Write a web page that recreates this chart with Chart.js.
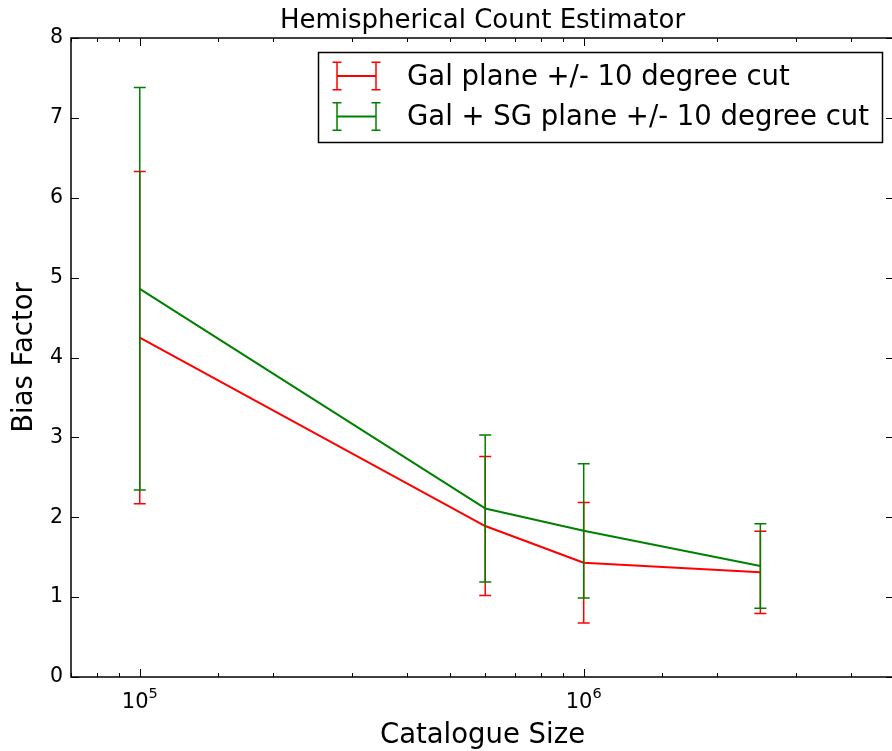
<!DOCTYPE html>
<html>
<head>
<meta charset="utf-8">
<script src="https://cdn.jsdelivr.net/npm/chart.js@4.4.0/dist/chart.umd.min.js"></script>
<style>
  html, body { margin: 0; padding: 0; background: #fff; }
  #wrap { width: 892px; height: 751px; overflow: hidden; }
  canvas { display: block; }
</style>
</head>
<body>
<div id="wrap"><canvas id="grafico" width="896" height="751"></canvas></div>
<script>
// valores
const catalogueSizes = [1e5, 6e5, 1e6, 2.5e6];
const galPlaneBias = [4.25, 1.89, 1.43, 1.31];
const galPlaneErr = [2.08, 0.87, 0.755, 0.515];
const galSgPlaneBias = [4.86, 2.11, 1.83, 1.39];
const galSgPlaneErr = [2.52, 0.92, 0.84, 0.53];
const seriesLabels = ['Gal plane +/- 10 degree cut', 'Gal + SG plane +/- 10 degree cut'];
const seriesColors = ['#ff0000', '#008000'];
const yTicks = [0, 1, 2, 3, 4, 5, 6, 7, 8];
const xMin = 7e4, xMax = 5e6;
const titleText = 'Hemispherical Count Estimator';

const FONT = 'DejaVu Sans';

const toPoints = (ys) => catalogueSizes.map((x, i) => ({ x, y: ys[i] }));

// barras de error, dibujadas justo despues de cada serie
const errorBars = {
    id: 'errorBars',
    afterDatasetDraw(chart, args) {
        const ds = chart.data.datasets[args.index];
        const xs = chart.scales.x, ys = chart.scales.y;
        const ctx = chart.ctx;
        ctx.save();
        ctx.strokeStyle = ds.borderColor;
        ctx.lineWidth = 1.5;
        ds.data.forEach((p, i) => {
            const e = ds.errors[i];
            const px = xs.getPixelForValue(p.x);
            const top = ys.getPixelForValue(p.y + e);
            const bot = ys.getPixelForValue(p.y - e);
            ctx.beginPath();
            ctx.moveTo(px, top); ctx.lineTo(px, bot);
            ctx.moveTo(px - 6, top); ctx.lineTo(px + 6, top);
            ctx.moveTo(px - 6, bot); ctx.lineTo(px + 6, bot);
            ctx.stroke();
        });
        ctx.restore();
    }
};

// marco, ticks hacia adentro, etiquetas 10^n, titulo y leyenda
const frameAndExtras = {
    id: 'frameAndExtras',
    afterDatasetsDraw(chart) {
        const { ctx, chartArea: a } = chart;
        const xs = chart.scales.x, ys = chart.scales.y;
        ctx.save();

        // ticks
        ctx.strokeStyle = '#000';
        ctx.lineWidth = 1;
        ctx.beginPath();
        yTicks.forEach(v => {
            const py = Math.round(ys.getPixelForValue(v)) + 0.5;
            ctx.moveTo(a.left, py); ctx.lineTo(a.left + 8, py);
            ctx.moveTo(a.right, py); ctx.lineTo(a.right - 8, py);
        });
        xs.ticks.forEach(t => {
            const lg = Math.log10(t.value);
            const major = Math.abs(lg - Math.round(lg)) < 1e-9;
            const len = major ? 8 : 4;
            const px = Math.round(xs.getPixelForValue(t.value)) + 0.5;
            ctx.moveTo(px, a.bottom); ctx.lineTo(px, a.bottom - len);
            ctx.moveTo(px, a.top); ctx.lineTo(px, a.top + len);
        });
        ctx.stroke();

        // marco
        ctx.lineWidth = 1.5;
        ctx.strokeRect(a.left, a.top, a.right - a.left, a.bottom - a.top);

        // etiquetas del eje x
        ctx.fillStyle = '#000';
        ctx.textBaseline = 'alphabetic';
        xs.ticks.forEach(t => {
            const lg = Math.log10(t.value);
            if (Math.abs(lg - Math.round(lg)) > 1e-9) return;
            const px = xs.getPixelForValue(t.value);
            const exp = String(Math.round(lg));
            ctx.font = `21px "${FONT}"`;
            const wBase = ctx.measureText('10').width;
            ctx.font = `14.5px "${FONT}"`;
            const wExp = ctx.measureText(exp).width;
            const x0 = px - (wBase + wExp) / 2;
            ctx.textAlign = 'left';
            ctx.font = `21px "${FONT}"`;
            ctx.fillText('10', x0, a.bottom + 31);
            ctx.font = `14.5px "${FONT}"`;
            ctx.fillText(exp, x0 + wBase, a.bottom + 21);
        });

        // titulo
        ctx.font = `26px "${FONT}"`;
        ctx.textAlign = 'center';
        ctx.fillText(titleText, (a.left + a.right) / 2, 28);

        // leyenda
        const lx = 318, ly = 52, lw = 564, lh = 90;
        ctx.fillStyle = '#fff';
        ctx.fillRect(lx, ly, lw, lh);
        ctx.strokeStyle = '#000';
        ctx.lineWidth = 1.5;
        ctx.strokeRect(lx + 0.5, ly + 0.5, lw, lh);
        seriesLabels.forEach((lab, i) => {
            const cy = 76 + 40.5 * i;
            ctx.strokeStyle = seriesColors[i];
            ctx.lineWidth = 2;
            ctx.beginPath();
            ctx.moveTo(337, cy); ctx.lineTo(376, cy);
            ctx.stroke();
            ctx.lineWidth = 1.5;
            ctx.beginPath();
            [337, 376].forEach(vx => {
                ctx.moveTo(vx, cy - 13.75); ctx.lineTo(vx, cy + 13.75);
                ctx.moveTo(vx - 4.5, cy - 13.75); ctx.lineTo(vx + 4.5, cy - 13.75);
                ctx.moveTo(vx - 4.5, cy + 13.75); ctx.lineTo(vx + 4.5, cy + 13.75);
            });
            ctx.stroke();
            ctx.fillStyle = '#000';
            ctx.textAlign = 'left';
            ctx.font = `27.5px "${FONT}"`;
            ctx.fillText(lab, 407, cy + 8.5);
        });

        ctx.restore();
    }
};

const ctx = document.getElementById('grafico').getContext('2d');
new Chart(ctx, {
    type: 'line',
    data: {
        datasets: [
            { label: seriesLabels[0], data: toPoints(galPlaneBias), errors: galPlaneErr, borderColor: seriesColors[0], borderWidth: 2, borderJoinStyle: 'round', pointRadius: 0, tension: 0, fill: false, order: 1 },
            { label: seriesLabels[1], data: toPoints(galSgPlaneBias), errors: galSgPlaneErr, borderColor: seriesColors[1], borderWidth: 2, borderJoinStyle: 'round', pointRadius: 0, tension: 0, fill: false, order: 0 }
        ]
    },
    options: {
        responsive: false,
        animation: false,
        layout: { padding: { top: 38, right: 2, left: 0, bottom: 0 } },
        plugins: { legend: { display: false }, tooltip: { enabled: false }, title: { display: false } },
        scales: {
            x: {
                type: 'logarithmic', min: xMin, max: xMax,
                grid: { display: false, drawTicks: false },
                border: { display: false },
                ticks: { display: false, autoSkip: false },
                title: { display: true, text: 'Catalogue Size', color: '#000', font: { family: FONT, size: 27.5, lineHeight: 1.1 }, padding: { top: 0, bottom: 0 } },
                afterFit: s => { s.height = 74; }
            },
            y: {
                min: 0, max: 8,
                afterBuildTicks: s => { s.ticks = yTicks.map(v => ({ value: v })); },
                ticks: { color: '#000', font: { family: FONT, size: 20.5 }, padding: 8 },
                grid: { display: false, drawTicks: false },
                border: { display: false },
                title: { display: true, text: 'Bias Factor', color: '#000', font: { family: FONT, size: 27.5, lineHeight: 1.1 }, padding: { top: 10, bottom: 0 } },
                afterFit: s => { s.width = 71; }
            }
        }
    },
    plugins: [errorBars, frameAndExtras]
});
</script>
</body>
</html>
